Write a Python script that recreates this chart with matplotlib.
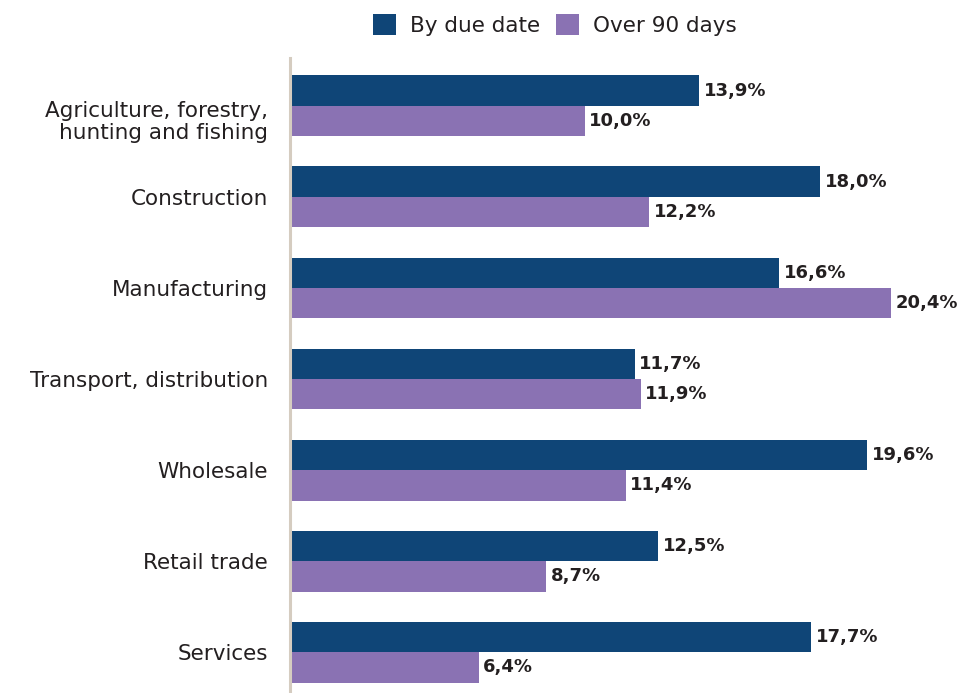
import matplotlib
matplotlib.use("Agg")
import matplotlib.pyplot as plt
import matplotlib.transforms as mtransforms
import numpy as np
from matplotlib.patches import Patch

categories = [
    "Agriculture, forestry,\nhunting and fishing",
    "Construction",
    "Manufacturing",
    "Transport, distribution",
    "Wholesale",
    "Retail trade",
    "Services",
]
by_due_date = [13.9, 18.0, 16.6, 11.7, 19.6, 12.5, 17.7]
over_90_days = [10.0, 12.2, 20.4, 11.9, 11.4, 8.7, 6.4]
series_names = ["By due date", "Over 90 days"]

BLUE = "#0F4577"
PURPLE = "#8A72B3"
TEXT = "#231F20"
AXIS = "#D5CCC0"

plt.rcParams["font.family"] = ["DejaVu Sans"]

W, H = 963, 693
fig = plt.figure(figsize=(W / 100, H / 100), dpi=100)

left_px, right_px = 290, 953
top_px, bottom_px = 58, 693
ax = fig.add_axes([left_px / W, 1 - bottom_px / H,
                   (right_px - left_px) / W, (bottom_px - top_px) / H])

y = np.arange(len(categories))
h = 0.335
bars1 = ax.barh(y - h / 2, by_due_date, height=h, color=BLUE, edgecolor="none")
bars2 = ax.barh(y + h / 2, over_90_days, height=h, color=PURPLE, edgecolor="none")

xmax = (right_px - left_px) / 29.46
ax.set_xlim(0, xmax)
ax.set_ylim(6.45, -0.527)

for bars, vals in ((bars1, by_due_date), (bars2, over_90_days)):
    for b, v in zip(bars, vals):
        ax.text(v + 0.15, b.get_y() + b.get_height() / 2,
                f"{v:.1f}".replace(".", ",") + "%",
                va="center", ha="left", fontsize=13, fontweight="bold",
                color=TEXT)

ax.set_yticks(y)
ax.set_yticklabels(categories, fontsize=15.5, color=TEXT, linespacing=1.12)
ax.tick_params(axis="y", length=0, pad=16)
ax.set_xticks([])

# the two-line label sits a little below its group centre
first = ax.get_yticklabels()[0]
first.set_transform(first.get_transform() +
                    mtransforms.ScaledTranslation(0, -0.13, fig.dpi_scale_trans))

for s in ("top", "right", "bottom"):
    ax.spines[s].set_visible(False)
ax.spines["left"].set_color(AXIS)
ax.spines["left"].set_linewidth(2.2)

handles = [Patch(facecolor=BLUE, edgecolor="none"),
           Patch(facecolor=PURPLE, edgecolor="none")]
fig.legend(handles, series_names, loc="center", ncol=2,
           bbox_to_anchor=(555 / W, 1 - 25 / H), frameon=False,
           fontsize=15.5, handlelength=1.07, handleheight=1.07,
           handletextpad=0.65, columnspacing=0.75, labelcolor=TEXT)

fig.savefig("out.png", dpi=100)
